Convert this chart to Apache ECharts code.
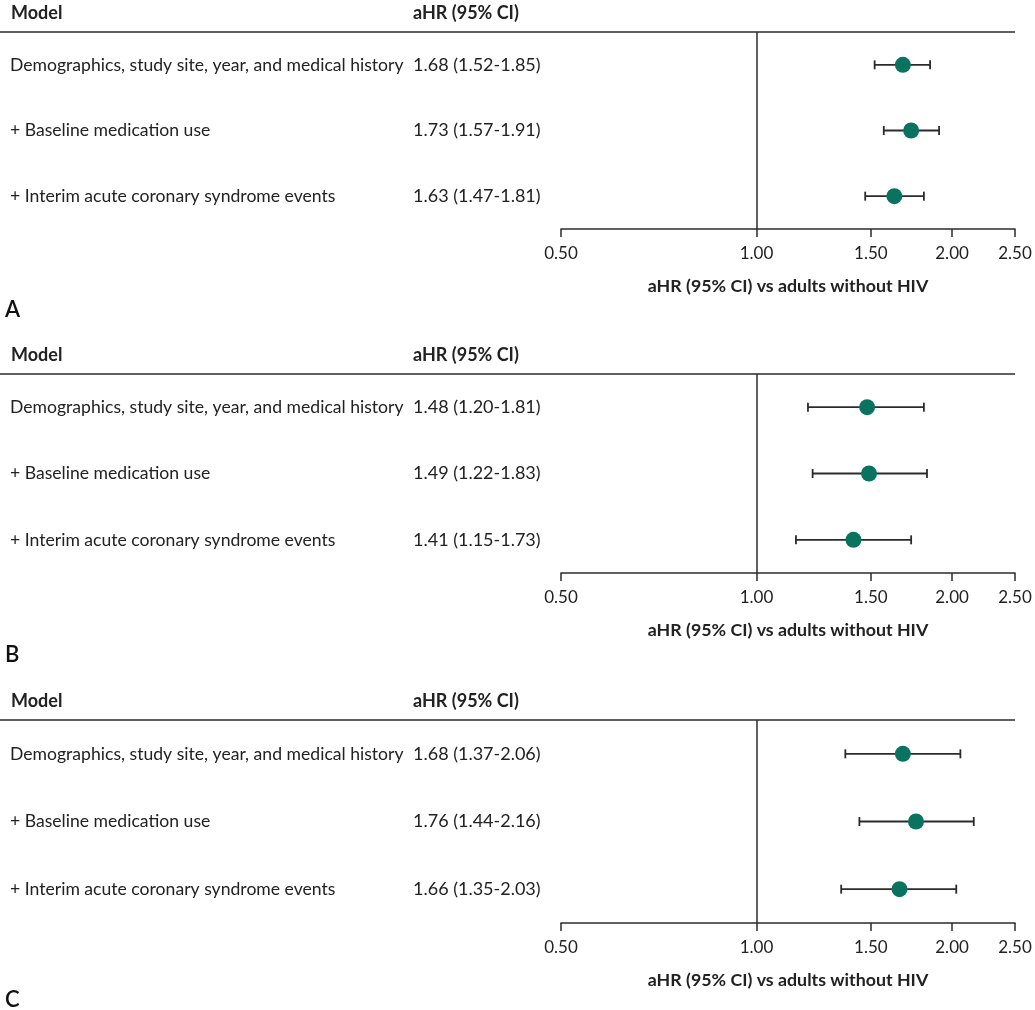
<!DOCTYPE html>
<html><head><meta charset="utf-8">
<script src="https://cdn.jsdelivr.net/npm/echarts@6/dist/echarts.min.js"></script>
<style>html,body{margin:0;padding:0;background:#fff}#c{width:1035px;height:1010px}</style>
</head><body><div id="c"></div>
<script>
const panelLetters = ['A', 'B', 'C'];
const headerModel = 'Model';
const headerHR = 'aHR (95% CI)';
const axisTitle = 'aHR (95% CI) vs adults without HIV';
const models = ['Demographics, study site, year, and medical history', '+ Baseline medication use', '+ Interim acute coronary syndrome events'];
const hrA = [1.68, 1.73, 1.63], lowA = [1.52, 1.57, 1.47], highA = [1.85, 1.91, 1.81];
const hrB = [1.48, 1.49, 1.41], lowB = [1.20, 1.22, 1.15], highB = [1.81, 1.83, 1.73];
const hrC = [1.68, 1.76, 1.66], lowC = [1.37, 1.44, 1.35], highC = [2.06, 2.16, 2.03];
const tickValues = [0.5, 1.0, 1.5, 2.0, 2.5];

const panelData = [[hrA, lowA, highA], [hrB, lowB, highB], [hrC, lowC, highC]];
const layout = [{top: 32, h: 197, letterY: 310}, {top: 374, h: 199, letterY: 655}, {top: 720, h: 203, letterY: 1000}];
const FONT = 'Lato';
const INK = '#222';
const LINE = '#2b2b2b';
const GREEN = '#0a735f';
const gridLeft = 561, gridRight = 20;

const grids = [], xAxes = [], yAxes = [], series = [], graphics = [];
panelData.forEach((d, i) => {
  const [hr, lo, hi] = d;
  const L = layout[i];
  grids.push({left: gridLeft, right: gridRight, top: L.top, height: L.h});
  xAxes.push({
    gridIndex: i, type: 'log', logBase: 10, min: 0.5, max: 2.5,
    axisLine: {show: true, lineStyle: {color: LINE, width: 1.5}},
    axisTick: {show: true, length: 8, lineStyle: {color: LINE, width: 1.5}, customValues: tickValues},
    axisLabel: {customValues: tickValues, margin: 16, fontFamily: FONT, fontSize: 17, color: INK,
      formatter: v => Number(v).toFixed(2)},
    splitLine: {show: false}, minorTick: {show: false},
    name: axisTitle, nameLocation: 'middle', nameGap: 48,
    nameTextStyle: {fontFamily: FONT, fontWeight: 'bold', fontSize: 17.8, color: INK}
  });
  const ciLabels = hr.map((v, k) => v.toFixed(2) + ' (' + lo[k].toFixed(2) + '-' + hi[k].toFixed(2) + ')');
  yAxes.push({
    gridIndex: i, type: 'category', inverse: true, data: models,
    axisLine: {show: false}, axisTick: {show: false}, splitLine: {show: false},
    axisLabel: {align: 'left', margin: gridLeft - 10, fontFamily: FONT, fontSize: 17.6, color: INK}
  });
  yAxes.push({
    gridIndex: i, type: 'category', inverse: true, data: ciLabels, position: 'left',
    axisLine: {show: false}, axisTick: {show: false}, splitLine: {show: false},
    axisLabel: {align: 'left', margin: gridLeft - 413, fontFamily: FONT, fontSize: 18, color: INK}
  });
  series.push({
    type: 'custom', xAxisIndex: i, yAxisIndex: 2 * i,
    data: lo.map((v, k) => [v, hi[k], k]),
    encode: {x: [0, 1], y: 2},
    renderItem: (params, api) => {
      const a = api.coord([api.value(0), api.value(2)]);
      const b = api.coord([api.value(1), api.value(2)]);
      const cap = 4.5;
      const st = {stroke: LINE, lineWidth: 1.8};
      return {type: 'group', children: [
        {type: 'line', shape: {x1: a[0], y1: a[1], x2: b[0], y2: b[1]}, style: st},
        {type: 'line', shape: {x1: a[0], y1: a[1] - cap, x2: a[0], y2: a[1] + cap}, style: st},
        {type: 'line', shape: {x1: b[0], y1: b[1] - cap, x2: b[0], y2: b[1] + cap}, style: st}
      ]};
    },
    z: 2
  });
  series.push({
    type: 'scatter', xAxisIndex: i, yAxisIndex: 2 * i,
    data: hr.map((v, k) => [v, k]), symbol: 'circle', symbolSize: 16,
    itemStyle: {color: GREEN, opacity: 1}, z: 3,
    markLine: {silent: true, symbol: 'none', label: {show: false},
      lineStyle: {color: LINE, width: 1.5, type: 'solid'}, data: [{xAxis: 1}]}
  });
  graphics.push({type: 'line', shape: {x1: 0, y1: L.top, x2: 1015, y2: L.top}, style: {stroke: LINE, lineWidth: 1.5}});
  graphics.push({type: 'text', x: 11, y: L.top - 19, style: {text: headerModel, font: 'bold 18px ' + FONT, fill: INK, textVerticalAlign: 'middle'}});
  graphics.push({type: 'text', x: 413, y: L.top - 19, style: {text: headerHR, font: 'bold 18px ' + FONT, fill: INK, textVerticalAlign: 'middle'}});
  graphics.push({type: 'text', x: 5, y: L.letterY, style: {text: panelLetters[i], font: '600 22px ' + FONT, fill: '#111', textVerticalAlign: 'middle'}});
});

const chart = echarts.init(document.getElementById('c'), null, {renderer: 'canvas'});
chart.setOption({
  animation: false,
  backgroundColor: '#fff',
  grid: grids, xAxis: xAxes, yAxis: yAxes, series: series, graphic: graphics
});
</script></body></html>
